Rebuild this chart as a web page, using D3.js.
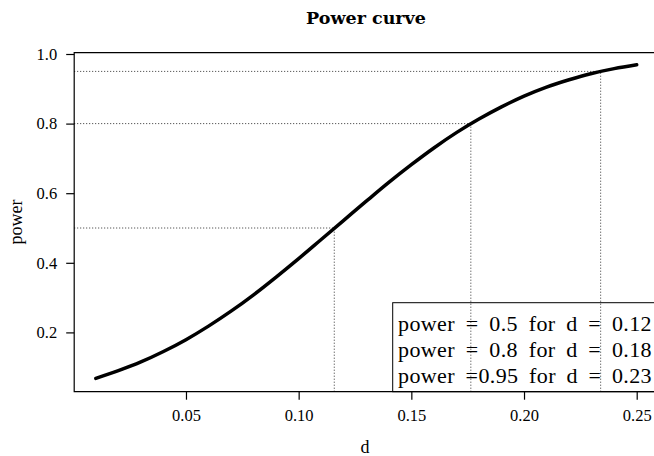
<!DOCTYPE html>
<html><head><meta charset="utf-8">
<script src="https://cdn.jsdelivr.net/npm/d3@7"></script>
<style>body{margin:0;background:#fff}svg{display:block}</style>
</head><body>
<script>
const dValues = [0.01,0.02,0.03,0.04,0.05,0.06,0.07,0.08,0.09,0.10,0.11,0.12,0.13,0.14,0.15,0.16,0.17,0.18,0.19,0.20,0.21,0.22,0.23,0.24,0.25];
const powerValues = [0.068,0.090,0.115,0.145,0.179,0.218,0.261,0.308,0.359,0.412,0.467,0.522,0.577,0.631,0.682,0.730,0.774,0.813,0.848,0.879,0.905,0.926,0.944,0.958,0.969];
const targetPower = [0.5, 0.8, 0.95];
const targetD = [0.1158, 0.1764, 0.2340];
const legendLines = ["power = 0.5 for d = 0.12", "power = 0.8 for d = 0.18", "power =0.95 for d = 0.23"];
const xTicks = [0.05,0.10,0.15,0.20,0.25];
const yTicks = [0.2,0.4,0.6,0.8,1.0];

const W = 654, H = 456;
const svg = d3.select("body").append("svg").attr("width", W).attr("height", H);
const x = d3.scaleLinear().domain([0, 0.25]).range([73.3, 636.7]);
const y = d3.scaleLinear().domain([0, 1]).range([402, 54]);
const xMin = 0.0004, xMax = 0.2596, yMin = 0.0296, yMax = 1.004;
const serif = "'Liberation Serif', 'DejaVu Serif', serif";

// dotted guides
const g = svg.append("g");
targetPower.forEach((p, i) => {
  g.append("line").attr("x1", x(xMin)).attr("x2", x(targetD[i])).attr("y1", y(p)).attr("y2", y(p))
    .attr("stroke", "#333").attr("stroke-width", 1).attr("stroke-dasharray", "1,2");
  g.append("line").attr("x1", x(targetD[i])).attr("x2", x(targetD[i])).attr("y1", y(yMin)).attr("y2", y(p))
    .attr("stroke", "#333").attr("stroke-width", 1).attr("stroke-dasharray", "1,2");
});

// curve
const line = d3.line().x((d, i) => x(dValues[i])).y(d => y(d)).curve(d3.curveMonotoneX);
svg.append("path").datum(powerValues).attr("d", line).attr("fill", "none")
  .attr("stroke", "#000").attr("stroke-width", 3.5).attr("stroke-linecap", "round");

// box (right side lies beyond the canvas)
svg.append("path")
  .attr("d", `M${x(xMax)},${y(yMax)}H${x(xMin)}V${y(yMin)}H${x(xMax)}`)
  .attr("fill", "none").attr("stroke", "#000").attr("stroke-width", 1.2);

// axes
const xAxis = svg.append("g").attr("transform", `translate(0,${y(yMin)})`)
  .call(d3.axisBottom(x).tickValues(xTicks).tickSize(8).tickPadding(10).tickFormat(d3.format(".2f")));
const yAxis = svg.append("g").attr("transform", `translate(${x(xMin)},0)`)
  .call(d3.axisLeft(y).tickValues(yTicks).tickSize(8).tickPadding(9).tickFormat(d3.format(".1f")));
[xAxis, yAxis].forEach(a => {
  a.attr("font-family", serif).attr("font-size", 16.5);
  a.select(".domain").remove();
  a.selectAll("line").attr("stroke", "#000").attr("stroke-width", 1.2);
  a.selectAll("text").attr("font-family", serif).attr("font-size", 16.5).attr("fill", "#000");
});

// legend
const lg = svg.append("g");
lg.append("rect").attr("x", 392.7).attr("y", 302.7).attr("width", 300).attr("height", y(yMin) - 302.7)
  .attr("fill", "none").attr("stroke", "#000").attr("stroke-width", 1);
legendLines.forEach((t, i) => {
  const tx = lg.append("text").attr("x", 398).attr("y", 330.5 + i * 26.3).text(t)
    .attr("font-family", serif).attr("font-size", 22).attr("letter-spacing", 0.4).attr("fill", "#000");
  const len = tx.node().getComputedTextLength();
  const spaces = (t.match(/ /g) || []).length;
  tx.attr("word-spacing", Math.max(0, (254 - len) / spaces));
});

// title and labels
svg.append("text").attr("x", 366).attr("y", 24.3).attr("text-anchor", "middle")
  .attr("font-family", "'DejaVu Serif', serif").attr("font-weight", "bold").attr("font-size", 17.5).text("Power curve");
svg.append("text").attr("x", 365).attr("y", 453).attr("text-anchor", "middle")
  .attr("font-family", serif).attr("font-size", 18).text("d");
svg.append("text").attr("transform", "translate(22,222) rotate(-90)").attr("text-anchor", "middle")
  .attr("font-family", serif).attr("font-size", 18).text("power");
</script>
</body></html>
